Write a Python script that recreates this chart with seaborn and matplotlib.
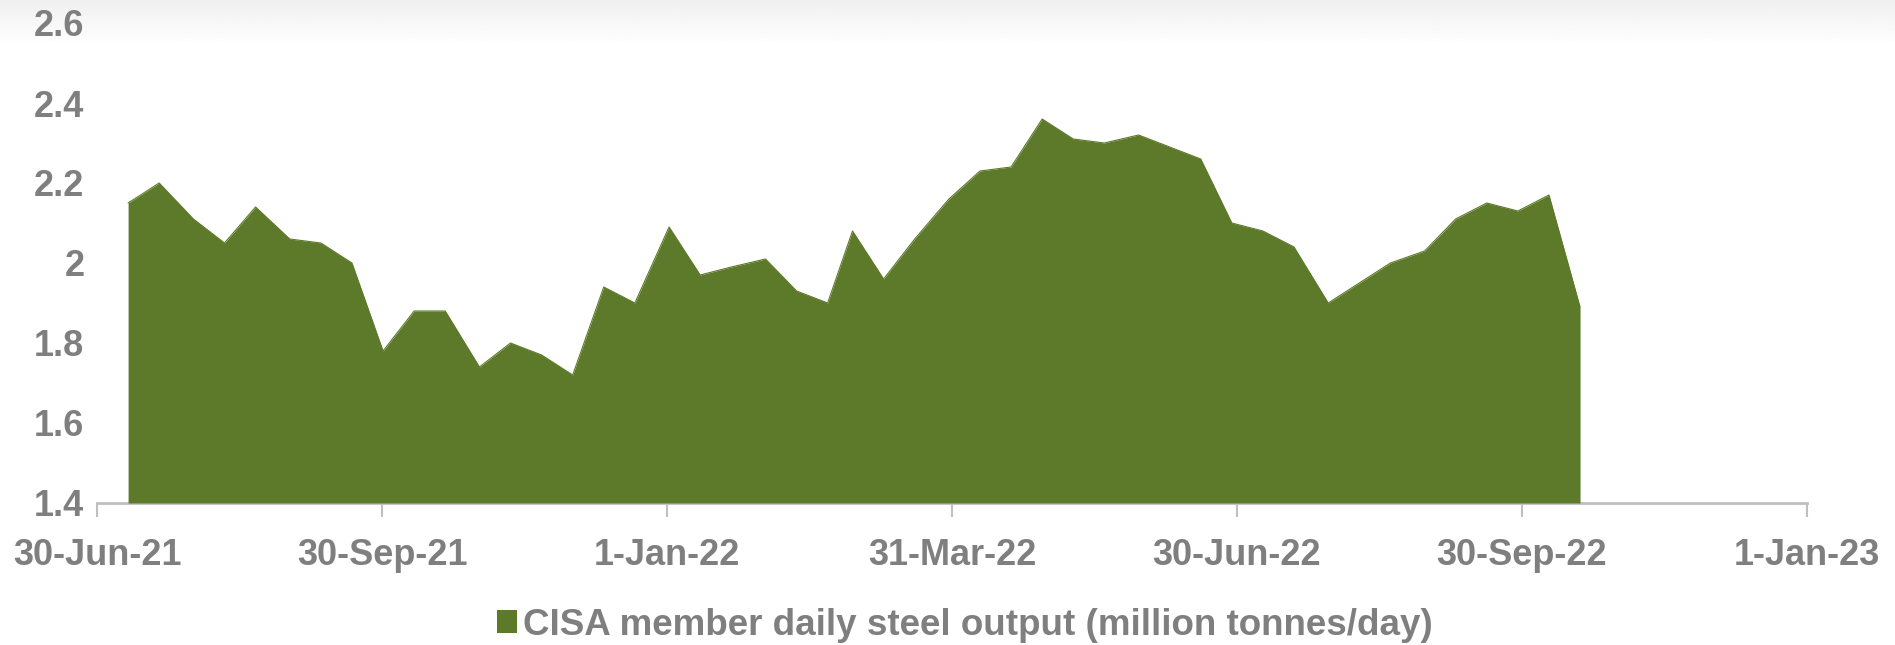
import numpy as np
import pandas as pd
import matplotlib
matplotlib.use("Agg")
import matplotlib.pyplot as plt
import matplotlib.dates as mdates
import seaborn as sns

# CISA member ten-day average output, million tonnes per day
dates = [
    "2021-07-10", "2021-07-20", "2021-07-31", "2021-08-10", "2021-08-20", "2021-08-31",
    "2021-09-10", "2021-09-20", "2021-09-30", "2021-10-10", "2021-10-20", "2021-10-31",
    "2021-11-10", "2021-11-20", "2021-11-30", "2021-12-10", "2021-12-20", "2021-12-31",
    "2022-01-10", "2022-01-20", "2022-01-31", "2022-02-10", "2022-02-20", "2022-02-28",
    "2022-03-10", "2022-03-20", "2022-03-31", "2022-04-10", "2022-04-20", "2022-04-30",
    "2022-05-10", "2022-05-20", "2022-05-31", "2022-06-10", "2022-06-20", "2022-06-30",
    "2022-07-10", "2022-07-20", "2022-07-31", "2022-08-10", "2022-08-20", "2022-08-31",
    "2022-09-10", "2022-09-20", "2022-09-30", "2022-10-10", "2022-10-20",
]
output = [
    2.15, 2.20, 2.11, 2.05, 2.14, 2.06,
    2.05, 2.00, 1.78, 1.88, 1.88, 1.74,
    1.80, 1.77, 1.72, 1.94, 1.90, 2.09,
    1.97, 1.99, 2.01, 1.93, 1.90, 2.08,
    1.96, 2.06, 2.16, 2.23, 2.24, 2.36,
    2.31, 2.30, 2.32, 2.29, 2.26, 2.10,
    2.08, 2.04, 1.90, 1.95, 2.00, 2.03,
    2.11, 2.15, 2.13, 2.17, 1.89,
]
series_label = "CISA member daily steel output (million tonnes/day)"
x_tick_labels = ["30-Jun-21", "30-Sep-21", "1-Jan-22", "31-Mar-22",
                 "30-Jun-22", "30-Sep-22", "1-Jan-23"]
y_ticks = [1.4, 1.6, 1.8, 2.0, 2.2, 2.4, 2.6]
y_tick_labels = ["1.4", "1.6", "1.8", "2", "2.2", "2.4", "2.6"]

df = pd.DataFrame({"date": pd.to_datetime(dates), "output": output})

sns.set_theme(style="white")
plt.rcParams["font.family"] = ["Liberation Sans", "DejaVu Sans"]

green = "#5C7A29"
grey_text = "#7F7F7F"
axis_grey = "#BFBFBF"

fig = plt.figure(figsize=(18.95, 6.45), dpi=100)

# soft grey band along the top edge
bg = fig.add_axes([0, 1 - 45 / 645, 1, 45 / 645], zorder=-10)
grad = np.linspace(0.94, 1.0, 64).reshape(-1, 1)
bg.imshow(np.repeat(grad, 2, axis=1), cmap="gray", vmin=0, vmax=1,
          aspect="auto", extent=[0, 1, 1, 0])
bg.axis("off")

ax = fig.add_axes([97 / 1895, 1 - 503 / 645, 1710 / 1895, 480 / 645])
ax.set_facecolor("none")

sns.lineplot(data=df, x="date", y="output", ax=ax, color=green, lw=0.8)
ax.fill_between(df["date"], 1.4, df["output"], color=green, lw=0,
                label=series_label)

x0 = mdates.date2num(pd.Timestamp("2021-06-30"))
x1 = mdates.date2num(pd.Timestamp("2023-01-01"))
ax.set_xlim(x0, x1)
ax.set_ylim(1.4, 2.6)

ax.set_xticks(np.linspace(x0, x1, len(x_tick_labels)))
ax.set_xticklabels(x_tick_labels)
ax.set_yticks(y_ticks)
ax.set_yticklabels(y_tick_labels)

ax.set_xlabel("")
ax.set_ylabel("")
for side in ("top", "right", "left"):
    ax.spines[side].set_visible(False)
ax.spines["bottom"].set_color(axis_grey)
ax.spines["bottom"].set_linewidth(2)
ax.spines["bottom"].set_zorder(0)

ax.tick_params(axis="x", which="major", bottom=True, length=10, width=1.5,
               color=axis_grey, direction="out", pad=15,
               labelsize=26, labelcolor=grey_text)
ax.tick_params(axis="y", left=False, pad=3, labelsize=26, labelcolor=grey_text)
for lbl in ax.get_xticklabels() + ax.get_yticklabels():
    lbl.set_fontweight("bold")

leg = fig.legend(loc="center", bbox_to_anchor=(0.509, 0.031), frameon=False,
                 handlelength=0.55, handleheight=0.55, handletextpad=0.15,
                 prop={"size": 26.5, "weight": "bold"})
for t in leg.get_texts():
    t.set_color(grey_text)

fig.savefig("out.png", dpi=100)
